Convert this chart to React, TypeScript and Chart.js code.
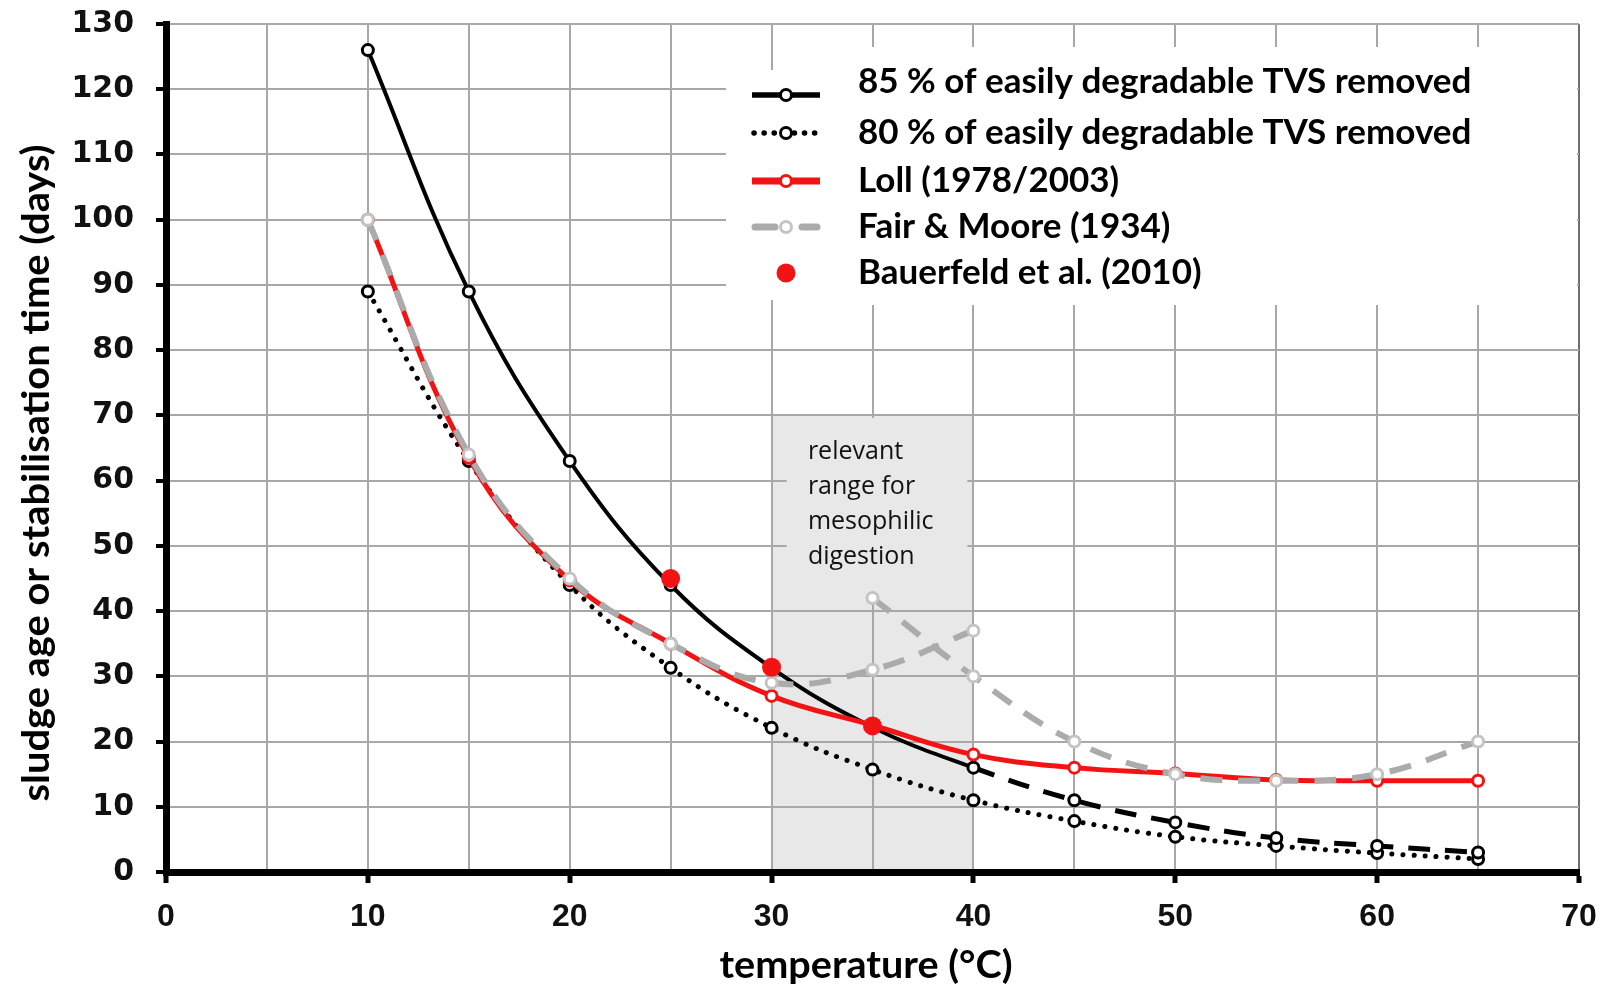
import React, { useEffect, useRef } from 'react';
import { Chart, registerables } from 'chart.js';

Chart.register(...registerables);

// ---------- data ----------
const temps = [10, 15, 20, 25, 30, 35, 40, 45, 50, 55, 60, 65];
const removed85 = [126, 89, 63, 44, 31.3, 22.2, 16, 11, 7.6, 5.2, 4, 3];
const removed80 = [89, 63, 44, 31.3, 22.1, 15.7, 11, 7.8, 5.4, 4, 2.9, 2];
const loll = [100, 63.5, 44.7, 35, 27, 22.5, 18, 16, 15.1, 14.1, 14, 14];
const fairMooreX = [10, 15, 20, 25, 30, 35, 40, 37.5, 35, 40, 45, 50, 55, 60, 65];
const fairMooreY = [100, 64, 45, 35, 29, 31, 37, null, 42, 30, 20, 15, 14, 15, 20];
const bauerfeldX = [25, 30, 35];
const bauerfeldY = [45, 31.4, 22.4];

const xTicks = [0, 10, 20, 30, 40, 50, 60, 70];
const legendLabels = [
  '85 % of easily degradable TVS removed',
  '80 % of easily degradable TVS removed',
  'Loll (1978/2003)',
  'Fair & Moore (1934)',
  'Bauerfeld et al. (2010)',
];
const rangeLabel = ['relevant', 'range for', 'mesophilic', 'digestion'];
const xTitle = 'temperature (°C)';
const yTitle = 'sludge age or stabilisation time (days)';

// ---------- styling ----------
const RED = '#f21414';
const GRAY = '#ababab';
const GRAY_PT = '#c4c4c4';
const TITLE_FONT = "bold 38px Lato, 'Open Sans', sans-serif";
const LEGEND_FONT = "bold 35px Lato, 'Open Sans', sans-serif";

const pts = (xs: number[], ys: (number | null)[]) => xs.map((x, i) => ({ x, y: ys[i] }));

const stretchText = (ctx: any, s: string, targetW: number) => {
  const w = ctx.measureText(s).width;
  ctx.save();
  ctx.scale(targetW / w, 1);
  ctx.fillText(s, 0, 0);
  ctx.restore();
};

const overlay = {
  id: 'overlay',
  beforeDraw(chart: any) {
    const { ctx, scales } = chart;
    const x = scales.x, y = scales.y;
    ctx.save();
    ctx.fillStyle = '#e8e8e8';
    const l = x.getPixelForValue(30), r = x.getPixelForValue(40);
    const t = y.getPixelForValue(70), b = y.getPixelForValue(0);
    ctx.fillRect(l, t, r - l, b - t);
    ctx.restore();
  },
  beforeDatasetsDraw(chart: any) {
    const { ctx, scales } = chart;
    const x = scales.x, y = scales.y;
    ctx.save();
    // box behind the range label
    ctx.fillStyle = '#e8e8e8';
    const l = x.getPixelForValue(30.75), r = x.getPixelForValue(39.7);
    const t = y.getPixelForValue(69.6), b = y.getPixelForValue(41.6);
    ctx.fillRect(l, t, r - l, b - t);
    // legend background
    ctx.fillStyle = '#ffffff';
    ctx.fillRect(726, 70, 98, 230);
    ctx.fillRect(822, 47, 755, 258);
    ctx.restore();
  },
  afterDraw(chart: any) {
    const { ctx, scales } = chart;
    const x = scales.x;
    ctx.save();
    // range label
    ctx.fillStyle = '#111';
    ctx.font = "25px 'Open Sans', sans-serif";
    ctx.textBaseline = 'middle';
    ctx.textAlign = 'left';
    const tx = x.getPixelForValue(31.8);
    rangeLabel.forEach((s, i) => ctx.fillText(s, tx, 452 + i * 35));

    // legend
    const markRows = [95, 133, 181, 227, 273];
    const textRows = [82, 133, 181, 227, 273];
    const mx0 = 752, mx1 = 820, mc = 786;
    const circ = (cx: number, cy: number, stroke: string) => {
      ctx.beginPath();
      ctx.arc(cx, cy, 5.5, 0, Math.PI * 2);
      ctx.fillStyle = '#fff';
      ctx.fill();
      ctx.lineWidth = 3;
      ctx.strokeStyle = stroke;
      ctx.setLineDash([]);
      ctx.stroke();
    };
    ctx.lineCap = 'butt';
    // row 1
    ctx.beginPath(); ctx.moveTo(mx0, markRows[0]); ctx.lineTo(mx1, markRows[0]);
    ctx.lineWidth = 5.5; ctx.strokeStyle = '#000'; ctx.setLineDash([]); ctx.stroke();
    circ(mc, markRows[0], '#000');
    // row 2
    ctx.beginPath(); ctx.moveTo(mx0 + 2, markRows[1]); ctx.lineTo(mx1, markRows[1]);
    ctx.lineWidth = 5.5; ctx.lineCap = 'round'; ctx.strokeStyle = '#000'; ctx.setLineDash([0.1, 10]); ctx.stroke();
    ctx.lineCap = 'butt';
    circ(mc, markRows[1], '#000');
    // row 3
    ctx.beginPath(); ctx.moveTo(mx0, markRows[2]); ctx.lineTo(mx1, markRows[2]);
    ctx.lineWidth = 7; ctx.strokeStyle = RED; ctx.setLineDash([]); ctx.stroke();
    circ(mc, markRows[2], RED);
    // row 4
    ctx.lineCap = 'round';
    ctx.beginPath(); ctx.moveTo(mx0 + 3, markRows[3]); ctx.lineTo(775, markRows[3]);
    ctx.moveTo(802, markRows[3]); ctx.lineTo(817, markRows[3]);
    ctx.lineWidth = 7; ctx.strokeStyle = GRAY; ctx.setLineDash([]); ctx.stroke();
    ctx.lineCap = 'butt';
    circ(mc, markRows[3], GRAY_PT);
    // row 5
    ctx.beginPath(); ctx.arc(mc, markRows[4], 9.5, 0, Math.PI * 2);
    ctx.fillStyle = RED; ctx.fill();

    ctx.fillStyle = '#000';
    ctx.font = LEGEND_FONT;
    ctx.textBaseline = 'middle';
    legendLabels.forEach((s, i) => ctx.fillText(s, 858, textRows[i]));

    // axis titles
    ctx.font = TITLE_FONT;
    ctx.textAlign = 'center';
    ctx.textBaseline = 'middle';
    ctx.save();
    ctx.translate(866, 966);
    stretchText(ctx, xTitle, 293);
    ctx.restore();
    ctx.save();
    ctx.translate(37, 473);
    ctx.rotate(-Math.PI / 2);
    stretchText(ctx, yTitle, 657);
    ctx.restore();
    ctx.restore();
  },
};

export default function App() {
  const ref = useRef<HTMLCanvasElement | null>(null);
  useEffect(() => {
    document.body.style.margin = '0';
    document.body.style.overflow = 'hidden';
    const canvas = ref.current!;
    const common = { pointRadius: 5.5, pointBorderWidth: 3, pointBackgroundColor: '#fff', tension: 0.4, fill: false };
    const chart = new Chart(canvas, {
      type: 'line',
      data: {
        datasets: [
          {
            label: legendLabels[4],
            data: pts(bauerfeldX, bauerfeldY),
            showLine: false,
            pointRadius: 9.5,
            pointBorderWidth: 0,
            pointBackgroundColor: RED,
            borderColor: RED,
          },
          {
            ...common,
            label: legendLabels[3],
            data: pts(fairMooreX, fairMooreY),
            borderColor: GRAY,
            borderWidth: 6,
            borderDash: [22, 16],
            pointBorderColor: GRAY_PT,
            spanGaps: false,
          },
          {
            ...common,
            label: legendLabels[2],
            data: pts(temps, loll),
            borderColor: RED,
            borderWidth: 5,
            pointBorderColor: RED,
          },
          {
            ...common,
            label: legendLabels[0],
            data: pts(temps, removed85),
            borderColor: '#000',
            borderWidth: 4,
            pointBorderColor: '#000',
            segment: {
              borderDash: (c: any) => (c.p0.parsed.x >= 40 ? [22, 15] : undefined),
              borderWidth: (c: any) => (c.p0.parsed.x >= 40 ? 5 : undefined),
            },
          },
          {
            ...common,
            label: legendLabels[1],
            data: pts(temps, removed80),
            borderColor: '#000',
            borderWidth: 5,
            borderDash: [0.1, 11],
            borderCapStyle: 'round',
            pointBorderColor: '#000',
          },
        ],
      },
      options: {
        responsive: false,
        animation: false,
        events: [],
        layout: { padding: { top: 24, right: 24, left: 0, bottom: 0 } },
        plugins: { legend: { display: false }, tooltip: { enabled: false }, title: { display: false } },
        scales: {
          x: {
            type: 'linear',
            min: 0,
            max: 70,
            afterFit: (s: any) => {
              s.height = 119;
              s.paddingLeft = 0;
              s.paddingRight = 0;
            },
            afterBuildTicks: (s: any) => {
              const t = [];
              for (let v = 0; v <= 70; v += 5) t.push({ value: v });
              s.ticks = t;
            },
            ticks: {
              autoSkip: false,
              maxRotation: 0,
              padding: 15,
              color: '#111',
              font: { family: "'Liberation Sans', Arial, sans-serif", size: 32, weight: 'bold' },
              callback: (v: any) => (xTicks.includes(Number(v)) ? String(v) : ''),
            },
            grid: {
              color: (c: any) => (c.tick && c.tick.value === 70 ? '#6e6e6e' : '#a8a8a8'),
              lineWidth: 2,
              tickLength: 11,
              tickWidth: 5,
              tickColor: (c: any) => (c.tick && c.tick.value % 10 === 0 ? '#000' : 'rgba(0,0,0,0)'),
            },
            border: { color: '#000', width: 7 },
          },
          y: {
            type: 'linear',
            min: 0,
            max: 130,
            afterFit: (s: any) => {
              s.width = 166;
              s.paddingTop = 0;
              s.paddingBottom = 0;
            },
            ticks: {
              stepSize: 10,
              padding: 22,
              color: '#111',
              font: { family: "'DejaVu Sans', sans-serif", size: 30, weight: 'bold' },
            },
            grid: {
              color: '#a8a8a8',
              lineWidth: 2,
              tickLength: 10,
              tickWidth: 4,
              tickColor: '#000',
            },
            border: { color: '#000', width: 7 },
          },
        },
      },
      plugins: [overlay],
    } as any);
    return () => chart.destroy();
  }, []);
  return <canvas ref={ref} width={1603} height={991} style={{ display: 'block' }} />;
}
